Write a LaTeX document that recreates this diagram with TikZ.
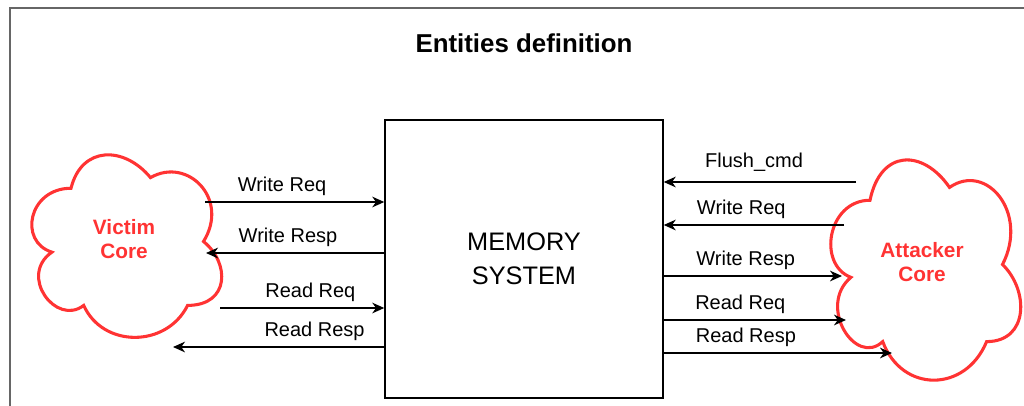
\documentclass[tikz,border=0pt]{standalone}
\usepackage{fontspec}
\setmainfont{Liberation Sans}
\usetikzlibrary{arrows.meta,positioning}

\definecolor{corered}{HTML}{FF3333}

\tikzset{
  corecloud/.pic={
    \draw[cloudline] (0.25,0.25) .. controls (0.05,0.25) and (0,0.5) .. (0.16,0.55)
      .. controls (0,0.66) and (0.18,0.9) .. (0.31,0.8)
      .. controls (0.4,1) and (0.7,1) .. (0.8,0.8)
      .. controls (1,0.8) and (1,0.6) .. (0.875,0.5)
      .. controls (1,0.3) and (0.8,0.1) .. (0.625,0.2)
      .. controls (0.5,0.05) and (0.3,0.05) .. (0.25,0.25) -- cycle;
  }
}

\begin{document}
\begin{tikzpicture}[x=0.75pt, y=-0.75pt,
    every node/.style={font=\fontsize{15}{18}\selectfont},
    >={Stealth[length=9pt, width=8pt, inset=2.8pt]},
    link/.style={->, line width=1.1pt},
    lbl/.style={above=3pt, inner sep=1pt},
    cloudline/.style={draw=corered, line width=2.3pt},
    coretext/.style={text=corered, font=\fontsize{15.6}{18}\selectfont\bfseries, align=center},
    membox/.style={draw, line width=1.6pt, minimum width=208pt, minimum height=208pt,
      align=center, font=\fontsize{19}{25.5}\selectfont}]

  \useasboundingbox (0,0) rectangle (1024,405);
  \draw[black!60, line width=1.1pt] (10,430) -- (10,8) -- (1040,8);

  \node[membox] (mem) at (524,259) {MEMORY\\SYSTEM};
  \node[font=\fontsize{19.4}{23}\selectfont\bfseries] (title) [above=46pt of mem] {Entities definition};

  % cores
  \pic[xscale=212, yscale=213] at (18,135) {corecloud};
  \pic[xscale=212, yscale=257] at (817,136) {corecloud};
  \node[coretext] (victim) at (124,239) {Victim\\Core};
  \node[coretext] (attacker) at (922,262) {Attacker\\Core};

  % where the arrows meet the clouds
  \coordinate (vwreq) at (205,202);
  \coordinate (vwresp) at (206,253);
  \coordinate (vrreq) at (220,308);
  \coordinate (vrresp) at (173,347);
  \coordinate (aflush) at (856,182);
  \coordinate (awreq) at (844,225);
  \coordinate (awresp) at (842,276);
  \coordinate (arreq) at (846,320);
  \coordinate (arresp) at (892,353);

  % victim side
  \draw[link] (vwreq) to node[lbl, pos=.43] {Write Req} (mem.west |- vwreq);
  \draw[link] (mem.west |- vwresp) to node[lbl, pos=.54] {Write Resp} (vwresp);
  \draw[link] (vrreq) to node[lbl, pos=.55] {Read Req} (mem.west |- vrreq);
  \draw[link] (mem.west |- vrresp) to node[lbl, pos=.33] {Read Resp} (vrresp);

  % attacker side
  \draw[link] (aflush) to node[lbl, pos=.53, above=6pt] {Flush\_cmd} (mem.east |- aflush);
  \draw[link] (awreq) to node[lbl, pos=.57] {Write Req} (mem.east |- awreq);
  \draw[link] (mem.east |- awresp) to node[lbl, pos=.46] {Write Resp} (awresp);
  \draw[link] (mem.east |- arreq) to node[lbl, pos=.42] {Read Req} (arreq);
  \draw[link] (mem.east |- arresp) to node[lbl, pos=.36] {Read Resp} (arresp);
\end{tikzpicture}
\end{document}
